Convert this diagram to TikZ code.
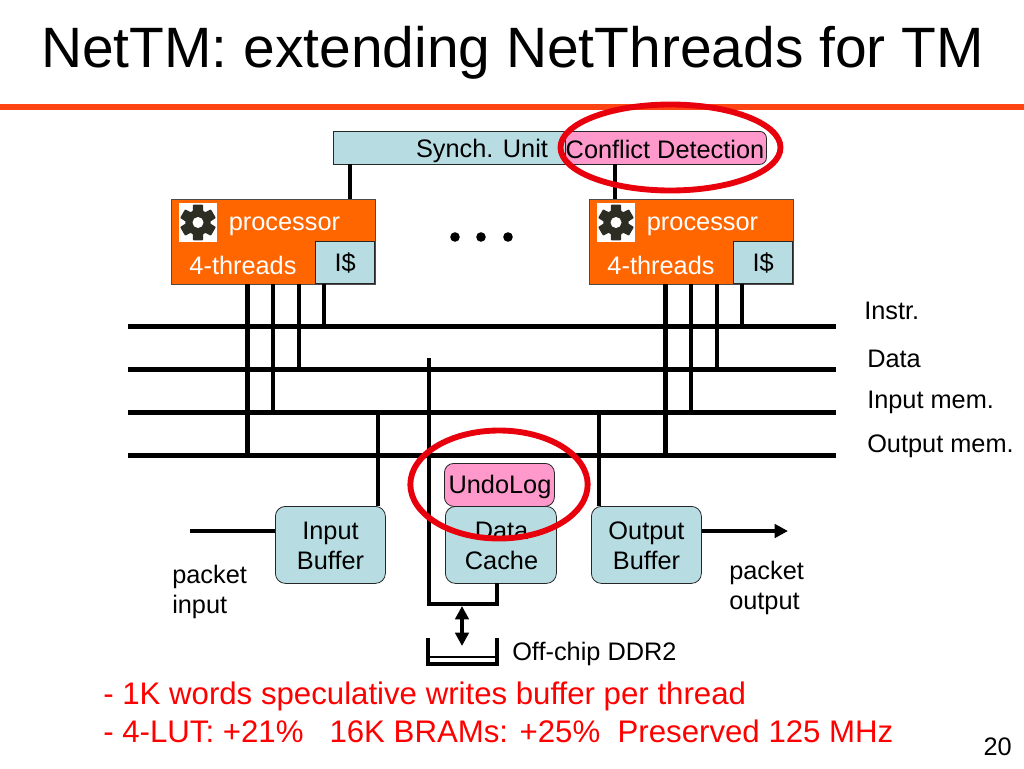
\documentclass[tikz,border=0pt]{standalone}
\usepackage{fontspec}
\setmainfont{Liberation Sans}
\usetikzlibrary{arrows.meta,calc,shapes.geometric}
\definecolor{boxblue}{RGB}{183,221,226}
\definecolor{boxpink}{RGB}{255,153,204}
\definecolor{procorange}{RGB}{255,102,0}
\definecolor{rulered}{RGB}{255,69,20}
\definecolor{gearcol}{RGB}{45,45,35}
\definecolor{ringred}{RGB}{232,0,12}
\tikzset{
  x=0.75pt,y=-0.75pt,
  body/.style={font=\fontsize{19}{22.5}\selectfont,inner sep=0pt,align=center,text=black},
  busline/.style={line width=3.2pt,black},
  wire/.style={line width=3.2pt,black},
  bluebox/.style={draw=black!85,line width=0.6pt,fill=boxblue,rounded corners=7.5pt,anchor=north west,inner sep=0pt},
  synchbox/.style={draw=black!85,line width=0.6pt,fill=boxblue,anchor=north west,inner sep=0pt},
  pinkbox/.style={draw=black!85,line width=0.6pt,fill=boxpink,rounded corners=6pt,anchor=north west,inner sep=0pt},
  procbox/.style={draw=black!70,line width=0.6pt,fill=procorange,anchor=north west,inner sep=0pt,minimum width=153pt,minimum height=63.75pt},
  icache/.style={draw=black!85,line width=0.6pt,fill=boxblue,anchor=south east,inner sep=0pt,minimum width=44.25pt,minimum height=31.5pt,font=\fontsize{19}{22}\selectfont},
  ring/.style={draw=ringred,line width=4.4pt,ellipse},
  rednote/.style={font=\fontsize{23.4}{28}\selectfont,text=red,anchor=base west,inner sep=0pt},
  lbl/.style={body,anchor=west,align=left},
  bighead/.style={{Triangle[length=10pt,width=10pt]}-{Triangle[length=10pt,width=10pt]}},
}
\newcommand{\geardraw}[1]{%
  \fill[white] ($(#1)+(-19,-19.5)$) rectangle ($(#1)+(19,19.5)$);
  \fill[gearcol,draw=gearcol,line width=1.2pt,line join=round]
    ($(#1)+(76:17.5)$)
    \foreach \a in {30,-30,-90,-150,150,90}{
      -- ($(#1)+(\a+38:12)$) -- ($(#1)+(\a+22:12)$) -- ($(#1)+(\a+14:17.5)$) -- ($(#1)+(\a-14:17.5)$)
    } -- cycle;
  \fill[white] (#1) circle[radius=5.5];
}
\begin{document}
\begin{tikzpicture}
\useasboundingbox (0,0) rectangle (1024,768);
% title and rule
\node[font=\fontsize{42.7}{50}\selectfont,inner sep=0pt,anchor=base] (title) at (512.5,67) {NetTM: extending NetThreads for TM};
\fill[rulered] (0,104) rectangle (1024,110);

% bus end points
\foreach \n/\y in {instr/326.5,data/369.5,inmem/412.5,outmem/455.5}{
  \coordinate (\n L) at (128,\y);
  \coordinate (\n R) at (836,\y);
  \draw[busline] (\n L) -- (\n R);
}
% boxes
\node[synchbox,minimum width=300pt,minimum height=24.75pt] (synch) at (333,131) {};
\node[body,anchor=center] (synchtxt) at (482,150.5) {Synch. Unit};
\node[pinkbox,minimum width=150.75pt,minimum height=24.75pt,rounded corners=5pt] (conflict) at (565,131) {};
\node[body,anchor=center] (conflicttxt) at (665,149) {Conflict Detection};

\node[procbox] (p1) at (171,199) {};
\node[procbox] (p2) at (589,199) {};
\node[icache] (i1) at (375,284) {I\$};
\node[icache] (i2) at (793,284) {I\$};
\node[body,text=white,anchor=center] (p1t) at (284.5,226) {processor};
\node[body,text=white,anchor=center] (p2t) at (702.5,226) {processor};
\node[body,text=white,anchor=center] (p1th) at (243,265) {4-threads};
\node[body,text=white,anchor=center] (p2th) at (661,265) {4-threads};
\coordinate (g1) at (198,222.5);
\coordinate (g2) at (616,222.5);
\geardraw{g1}
\geardraw{g2}

% synch wires
\coordinate (s1) at (350,164);
\coordinate (s2) at (615,164);
\coordinate (t1) at (350,199);
\coordinate (t2) at (615,199);
\draw[wire] (s1) -- (t1);
\draw[wire] (s2) -- (t2);

% processor wires
\foreach \p/\o in {1/0,2/418}{
  \coordinate (a\p) at ($(247.5,284)+(\o,0)$);
  \coordinate (b\p) at ($(273,284)+(\o,0)$);
  \coordinate (c\p) at ($(299,284)+(\o,0)$);
  \coordinate (d\p) at ($(324,284)+(\o,0)$);
  \draw[wire] (a\p) -- (a\p |- outmemL);
  \draw[wire] (b\p) -- (b\p |- inmemL);
  \draw[wire] (c\p) -- (c\p |- dataL);
  \draw[wire] (d\p) -- (d\p |- instrL);
}

% memory wires
\draw[wire] (378,412) -- (378,506);
\draw[wire] (599,412) -- (599,506);

% lower boxes
\node[bluebox,minimum width=82.5pt,minimum height=57.75pt,body] (ib) at (275,506) {};
\node[bluebox,minimum width=82.5pt,minimum height=57.75pt,body] (ob) at (591,506) {};
\node[bluebox,minimum width=83.25pt,minimum height=57.75pt,body] (dc) at (445,506) {};
\node[pinkbox,minimum width=82.5pt,minimum height=32.25pt,rounded corners=7pt] (ul) at (444,463) {};
\node[body,anchor=center] (ibt) at (330.5,546) {Input\\Buffer};
\node[body,anchor=center] (obt) at (646.5,546) {Output\\Buffer};
\node[body,anchor=center] (dct) at (501.5,546) {Data\\Cache};
\node[body,anchor=center] (ult) at (500,487) {UndoLog};

\coordinate (dtop) at (429,358);
\coordinate (dbot) at (429,604);
\coordinate (cbot) at (497,583);
\draw[wire,line join=miter] (dtop) -- (dbot) -- (dbot -| cbot) -- (cbot);

% packet arrows
\coordinate (pin) at (190,531);
\coordinate (pout) at (788,531);
\draw[wire] (pin) -- (pin -| ib.west);
\draw[wire,-{Triangle[length=10pt,width=10pt]}] (pout -| ob.east) -- (pout);

% memory
\coordinate (bl) at (428,638);
\coordinate (br) at (497,638);
\coordinate (bbl) at (428,664);
\coordinate (bbr) at (497,664);
\draw[wire,line join=miter] (bl) -- (bbl) -- (bbr) -- (br);
\draw[line width=2pt] (428,657) -- (497,657);
\coordinate (ma) at (462,606);
\coordinate (mb) at (462,646);
\draw[wire,bighead] (ma) -- (mb);

% rings
\node[ring,minimum width=165pt,minimum height=64.5pt,inner sep=0pt] (r1) at (670.5,147.5) {};
\node[ring,minimum width=133pt,minimum height=81pt,inner sep=0pt] (r2) at (499,484.5) {};

% dots
\foreach \x in {455,481,508}{\fill[black] (\x,237) circle[radius=4.8];}

% labels
\node[lbl] (l1) at (864,311) {Instr.};
\node[lbl] (l2) at (867,359) {Data};
\node[lbl] (l3) at (867,402.5) {Input mem.};
\node[lbl] (l4) at (867,446) {Output mem.};
\node[lbl] (l5) at (172,592) {packet\\input};
\node[lbl] (l6) at (729,588) {packet\\output};
\node[lbl] (l7) at (512,654) {Off-chip DDR2};
\node[rednote] (n1) at (103,704) {- 1K words speculative writes buffer per thread};
\node[rednote] (n2) at (103,742) {- 4-LUT: +21\%\ \ \ 16K BRAMs: +25\%\ \ Preserved 125 MHz};
\node[body,anchor=east] (pg) at (1012,747) {20};
\end{tikzpicture}
\end{document}
